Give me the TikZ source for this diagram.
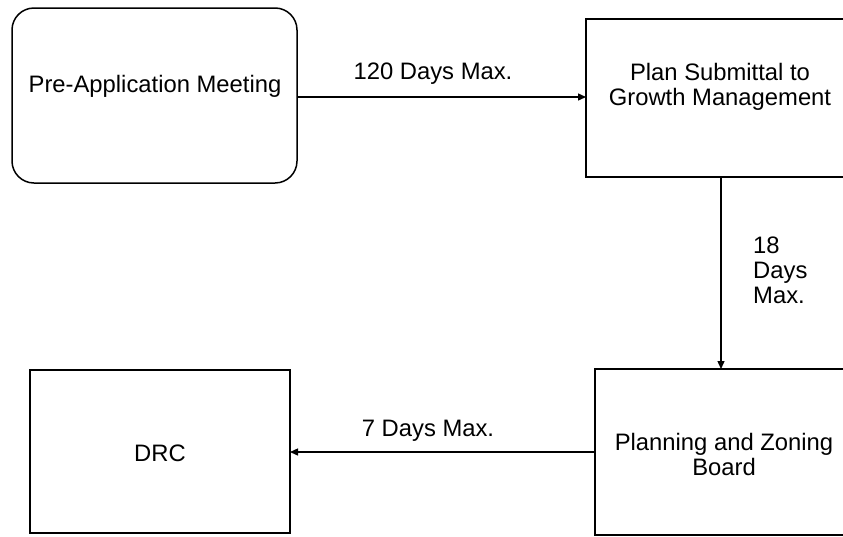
\documentclass[tikz,border=0pt]{standalone}
\usepackage{fontspec}
\setmainfont{Liberation Sans}
\usetikzlibrary{arrows.meta}
\begin{document}
\begin{tikzpicture}[x=1pt,y=-1pt,
  box/.style={draw=black,line width=1.5pt,inner sep=0pt},
  lbl/.style={font=\fontsize{23.8}{25}\selectfont,align=center,inner sep=0pt},
  conn/.style={line width=1.4pt,-{Triangle[length=8pt,width=7pt]}}]
\useasboundingbox (0,0) rectangle (843,536);
\clip (0,0) rectangle (843,536);
\fill[white] (0,0) rectangle (843,536);
% boxes
\draw[box,rounded corners=22pt] (12,8) rectangle (297,183);
\node[lbl] (pre) at (155,86) {Pre-Application Meeting};
\coordinate (preE) at (297,97);

\draw[box] (586,19) rectangle (860,177);
\node[lbl] (plan) at (720,87) {Plan Submittal to\\Growth Management};
\coordinate (planW) at (586,97);
\coordinate (planS) at (721,177);

\draw[box] (595,369) rectangle (860,535);
\node[lbl] (pzb) at (724,454) {Planning and Zoning\\Board};
\coordinate (pzbN) at (721,369);
\coordinate (pzbW) at (595,452);

\draw[box] (30,370) rectangle (290,533);
\node[lbl] (drc) at (160,453) {DRC};
\coordinate (drcE) at (290,452);

% connectors
\draw[conn] (preE) -- (planW);
\draw[conn] (planS) -- (pzbN);
\draw[conn] (pzbW) -- (drcE);

% labels
\node[lbl] (l1) at (433,74) {120 Days Max.};
\node[lbl,align=left,anchor=west] (l2) at (753,270) {18\\Days\\Max.};
\node[lbl] (l3) at (428,431) {7 Days Max.};
\end{tikzpicture}
\end{document}
